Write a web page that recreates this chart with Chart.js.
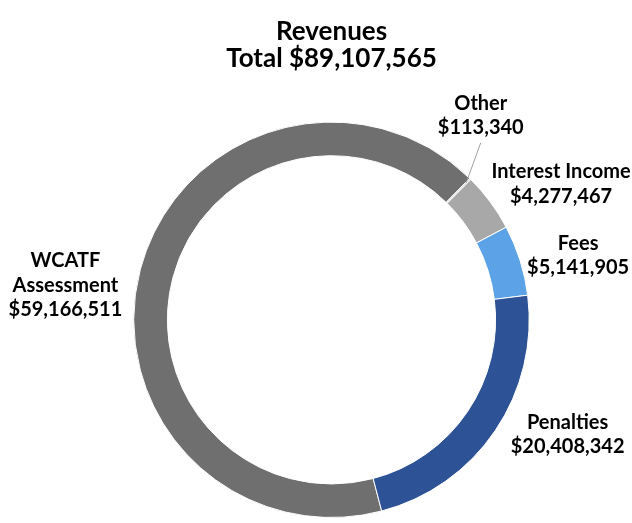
<!DOCTYPE html>
<html>
<head>
<meta charset="utf-8">
<script src="https://cdn.jsdelivr.net/npm/chart.js@4.4.1/dist/chart.umd.min.js"></script>
<style>
  html, body { margin: 0; padding: 0; background: #fff; }
  #wrap { width: 632px; height: 523px; position: relative; }
</style>
</head>
<body>
<div id="wrap"><canvas id="revChart"></canvas></div>
<script>
// Data
const categories = ['WCATF Assessment', 'Other', 'Interest Income', 'Fees', 'Penalties'];
const revenues = [59166511, 113340, 4277467, 5141905, 20408342];
const labelLines = [
    ['WCATF', 'Assessment', '$59,166,511'],
    ['Other', '$113,340'],
    ['Interest Income', '$4,277,467'],
    ['Fees', '$5,141,905'],
    ['Penalties', '$20,408,342']
];
const titleLines = ['Revenues', 'Total $89,107,565'];

// Styles
const sliceColors = ['#6f6f6f', '#d4d4d4', '#a8a8a8', '#5ba3e6', '#2e5296'];
const labelNudge = [[-15, 32], [-33, -19], [21, 19], [-1, 14], [21, -31]];
const leader = [false, true, false, false, false];
const fontFamily = "Lato, 'Open Sans', sans-serif";

const sliceLabels = {
    id: 'sliceLabels',
    afterDatasetsDraw(chart) {
        const ctx = chart.ctx;
        const arcs = chart.getDatasetMeta(0).data;
        ctx.save();
        ctx.font = `bold 20px ${fontFamily}`;
        ctx.fillStyle = '#000';
        ctx.textAlign = 'center';
        ctx.textBaseline = 'middle';
        arcs.forEach((arc, i) => {
            const { x, y, startAngle, endAngle, outerRadius } = arc.getProps(['x', 'y', 'startAngle', 'endAngle', 'outerRadius'], true);
            const mid = (startAngle + endAngle) / 2;
            const r = outerRadius + 62;
            const lx = x + Math.cos(mid) * r + labelNudge[i][0];
            const ly = y + Math.sin(mid) * r + labelNudge[i][1];
            const lines = labelLines[i];
            const lh = 24.5;
            const top = ly - (lines.length - 1) * lh / 2;
            lines.forEach((t, k) => ctx.fillText(t, lx, top + k * lh));

            if (leader[i]) {
                ctx.strokeStyle = '#a0a0a0';
                ctx.lineWidth = 1;
                ctx.beginPath();
                ctx.moveTo(x + Math.cos(mid) * (outerRadius - 6), y + Math.sin(mid) * (outerRadius - 6));
                ctx.lineTo(lx, ly + 27);
                ctx.stroke();
            }
        });
        ctx.restore();
    }
};

new Chart(document.getElementById('revChart'), {
    type: 'doughnut',
    data: {
        labels: categories,
        datasets: [{
            data: revenues,
            backgroundColor: sliceColors,
            borderColor: '#ffffff',
            borderWidth: 1
        }]
    },
    options: {
        responsive: true,
        maintainAspectRatio: false,
        animation: false,
        cutout: '83%',
        rotation: 165.3,
        layout: { padding: { left: 133, right: 102, top: 0, bottom: 5 } },
        plugins: {
            legend: { display: false },
            tooltip: { enabled: false },
            title: {
                display: true,
                text: titleLines,
                color: '#000',
                font: { family: fontFamily, size: 26, weight: 'bold', lineHeight: 1.04 },
                padding: { top: 18, bottom: 49.5 }
            }
        }
    },
    plugins: [sliceLabels]
});
</script>
</body>
</html>
